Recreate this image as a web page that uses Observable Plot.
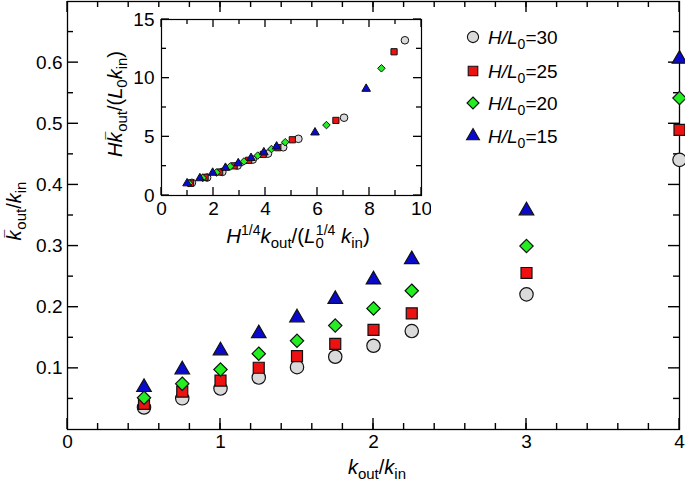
<!DOCTYPE html>
<html><head><meta charset="utf-8">
<script src="https://cdn.jsdelivr.net/npm/d3@7"></script>
<script src="https://cdn.jsdelivr.net/npm/@observablehq/plot@0.6"></script>
<style>
body{margin:0;background:#fff;}
#wrap{position:relative;width:685px;height:488px;overflow:hidden;font-family:"Liberation Sans",Arial,sans-serif;}
#wrap svg{position:absolute;}
</style></head><body><div id="wrap"></div>
<script>
// ---- data ----
const kRatio = [0.5, 0.75, 1, 1.25, 1.5, 1.75, 2, 2.25, 3, 4];           // k_out/k_in
const h30 = [0.036, 0.051, 0.067, 0.085, 0.102, 0.119, 0.137, 0.161, 0.221, 0.441];
const h25 = [0.042, 0.062, 0.080, 0.101, 0.120, 0.140, 0.163, 0.190, 0.256, 0.490];
const h20 = [0.052, 0.075, 0.098, 0.124, 0.145, 0.170, 0.198, 0.227, 0.300, 0.542];
const h15 = [0.069, 0.098, 0.129, 0.157, 0.183, 0.213, 0.245, 0.278, 0.358, 0.606];
const hOverL0 = [30, 25, 20, 15];
const seriesLabels = ["=30", "=25", "=20", "=15"];
const symbols = ["circle", "square", "diamond2", "triangle"];
const fills = ["#dadada", "#ee1111", "#22ee22", "#0a0acc"];
const xTicks = [0, 1, 2, 3, 4];
const yTicks = [0.1, 0.2, 0.3, 0.4, 0.5, 0.6];
const insetXTicks = [0, 2, 4, 6, 8, 10];
const insetYTicks = [0, 5, 10, 15];

const seriesVals = [h30, h25, h20, h15];
const series = seriesVals.map((vals, s) => vals.map((v, i) => ({x: kRatio[i], y: v, h: hOverL0[s]})));
// inset axes: H^{1/4} k_out/(L0^{1/4} k_in)  vs  H kbar_out/(L0 k_in)
const insetSeries = series.map(rows => rows.map(d => ({x: d.x * Math.pow(d.h, 0.25), y: d.y * d.h})));

const wrap = document.getElementById("wrap");
const font = {fontFamily: '"Liberation Sans", Arial, sans-serif', fontSize: "19px"};

function dots(data, rs, sw) {
  return data.map((rows, s) => Plot.dot(rows, {x: "x", y: "y", symbol: symbols[s], r: rs[s], fill: fills[s], stroke: "#111", strokeWidth: sw}));
}

// inward tick marks on all four sides, positioned through the plot's own scales
function inwardTicks(plot, box, xMaj, xMin, yMaj, yMin, L, l, sw) {
  const sx = plot.scale("x"), sy = plot.scale("y");
  const gg = d3.select(plot).insert("g", "g").attr("stroke", "#000").attr("stroke-width", sw);
  const seg = (x1, y1, x2, y2) => gg.append("line").attr("x1", x1).attr("y1", y1).attr("x2", x2).attr("y2", y2);
  for (const [vals, len] of [[xMaj, L], [xMin, l]]) for (const v of vals) {
    const px = sx.apply(v);
    seg(px, box.bottom, px, box.bottom - len);
    seg(px, box.top, px, box.top + len);
  }
  for (const [vals, len] of [[yMaj, L], [yMin, l]]) for (const v of vals) {
    const py = sy.apply(v);
    seg(box.left, py, box.left + len, py);
    seg(box.right, py, box.right - len, py);
  }
}

// ---- main plot ----
const MW = 685, MH = 488, ML = 67, MR = 6, MT = 1, MB = 59;
const main = Plot.plot({
  width: MW, height: MH,
  marginLeft: ML, marginRight: MR, marginTop: MT, marginBottom: MB,
  style: font,
  x: {domain: [0, 4]},
  y: {domain: [0, 0.7]},
  marks: [
    Plot.frame({stroke: "#000", strokeWidth: 1.3}),
    Plot.axisX(xTicks, {anchor: "bottom", tickSize: 0, tickPadding: 5, label: null, tickFormat: d => String(d)}),
    Plot.axisY(yTicks, {anchor: "left", tickSize: 0, tickPadding: 5, label: null, tickFormat: d => d.toFixed(1)}),
    ...dots(series, [6.7, 6.2, 6.0, 5.4], 1.2)
  ]
});
main.style.left = "0px"; main.style.top = "0px";
wrap.appendChild(main);
inwardTicks(main, {left: ML, right: MW - MR, top: MT, bottom: MH - MB},
  xTicks, d3.range(0.2, 4, 0.2), yTicks, d3.range(0.05, 0.7, 0.1), 11, 6, 1.4);

// ---- inset plot ----
const IW = 310, IH = 217, IL = 40, IR = 10, IT = 10, IB = 31;
const inset = Plot.plot({
  width: IW, height: IH,
  marginLeft: IL, marginRight: IR, marginTop: IT, marginBottom: IB,
  style: font,
  x: {domain: [0, 10]},
  y: {domain: [0, 15]},
  marks: [
    Plot.frame({stroke: "#000", strokeWidth: 1.2}),
    Plot.axisX(insetXTicks, {anchor: "bottom", tickSize: 0, tickPadding: 6, label: null}),
    Plot.axisY(insetYTicks, {anchor: "left", tickSize: 0, tickPadding: 7, label: null}),
    ...dots(insetSeries, [3.8, 3.5, 3.4, 3.2], 1)
  ]
});
inset.style.left = "121px"; inset.style.top = "9px";
inset.style.background = "transparent";
wrap.appendChild(inset);
inwardTicks(inset, {left: IL, right: IW - IR, top: IT, bottom: IH - IB},
  insetXTicks, d3.range(1, 10, 2), insetYTicks, [2.5, 7.5, 12.5], 8, 5, 1.3);

// ---- rich text labels & legend (drawn into the main svg) ----
const svg = d3.select(main);
const g = svg.append("g").attr("font-family", '"Liberation Sans", Arial, sans-serif').attr("fill", "#000");

function rich(parent, segs, attrs) {
  const t = parent.append("text").attr("text-anchor", "start");
  for (const k in attrs) t.attr(k, attrs[k]);
  let shift = 0;
  for (const s of segs) {
    const sp = t.append("tspan").text(s.t);
    const b = s.b || 0;
    if (b !== shift) sp.attr("dy", b - shift);
    shift = b;
    if (s.i) sp.attr("font-style", "italic");
    if (s.fs) sp.attr("font-size", s.fs);
    if (s.dx) sp.attr("dx", s.dx);
  }
  return t;
}
const SUB = {b: 5, fs: 15};
const SUP = {b: -8, fs: 14};
const BAR = {t: "\u00AF", fs: 14, b: -6, dx: -7};

// main x label
rich(g, [{t: "k", i: 1}, {t: "out", ...SUB}, {t: "/"}, {t: "k", i: 1}, {t: "in", ...SUB}],
  {x: 377, y: 474, "text-anchor": "middle", "font-size": 20});
// main y label
rich(g, [{t: "k", i: 1}, BAR, {t: "out", ...SUB}, {t: "/"}, {t: "k", i: 1}, {t: "in", ...SUB}],
  {transform: "translate(21,211) rotate(-90)", "text-anchor": "middle", "font-size": 20});
// inset y label
rich(g, [{t: "H", i: 1}, {t: "k", i: 1}, BAR, {t: "out", ...SUB}, {t: "/("}, {t: "L", i: 1}, {t: "0", ...SUB}, {t: "k", i: 1}, {t: "in", ...SUB}, {t: ")"}],
  {transform: "translate(122,104) rotate(-90)", "text-anchor": "middle", "font-size": 20});
// inset x label
rich(g, [{t: "H", i: 1}, {t: "1/4", ...SUP}, {t: "k", i: 1}, {t: "out", ...SUB}, {t: "/("}, {t: "L", i: 1}, {t: "0", ...SUB},
         {t: "1/4", ...SUP, dx: -8}, {t: " "}, {t: "k", i: 1}, {t: "in", ...SUB}, {t: ")"}],
  {x: 298, y: 243, "text-anchor": "middle", "font-size": 20.5});

// legend
const legY = [37, 71, 103, 136];
const legR = [5.6, 5.4, 5.4, 4.8];
const symMap = {circle: d3.symbolCircle, square: d3.symbolSquare, diamond2: d3.symbolDiamond2, triangle: d3.symbolTriangle};
seriesLabels.forEach((lab, s) => {
  g.append("path")
    .attr("d", d3.symbol(symMap[symbols[s]], Math.PI * legR[s] * legR[s])())
    .attr("transform", `translate(473,${legY[s]})`)
    .attr("fill", fills[s]).attr("stroke", "#111").attr("stroke-width", 1.1);
  rich(g, [{t: "H/L", i: 1}, {t: "0", b: 5, fs: 14}, {t: lab}], {x: 488, y: legY[s] + 6.5, "font-size": 19});
});
</script></body></html>
